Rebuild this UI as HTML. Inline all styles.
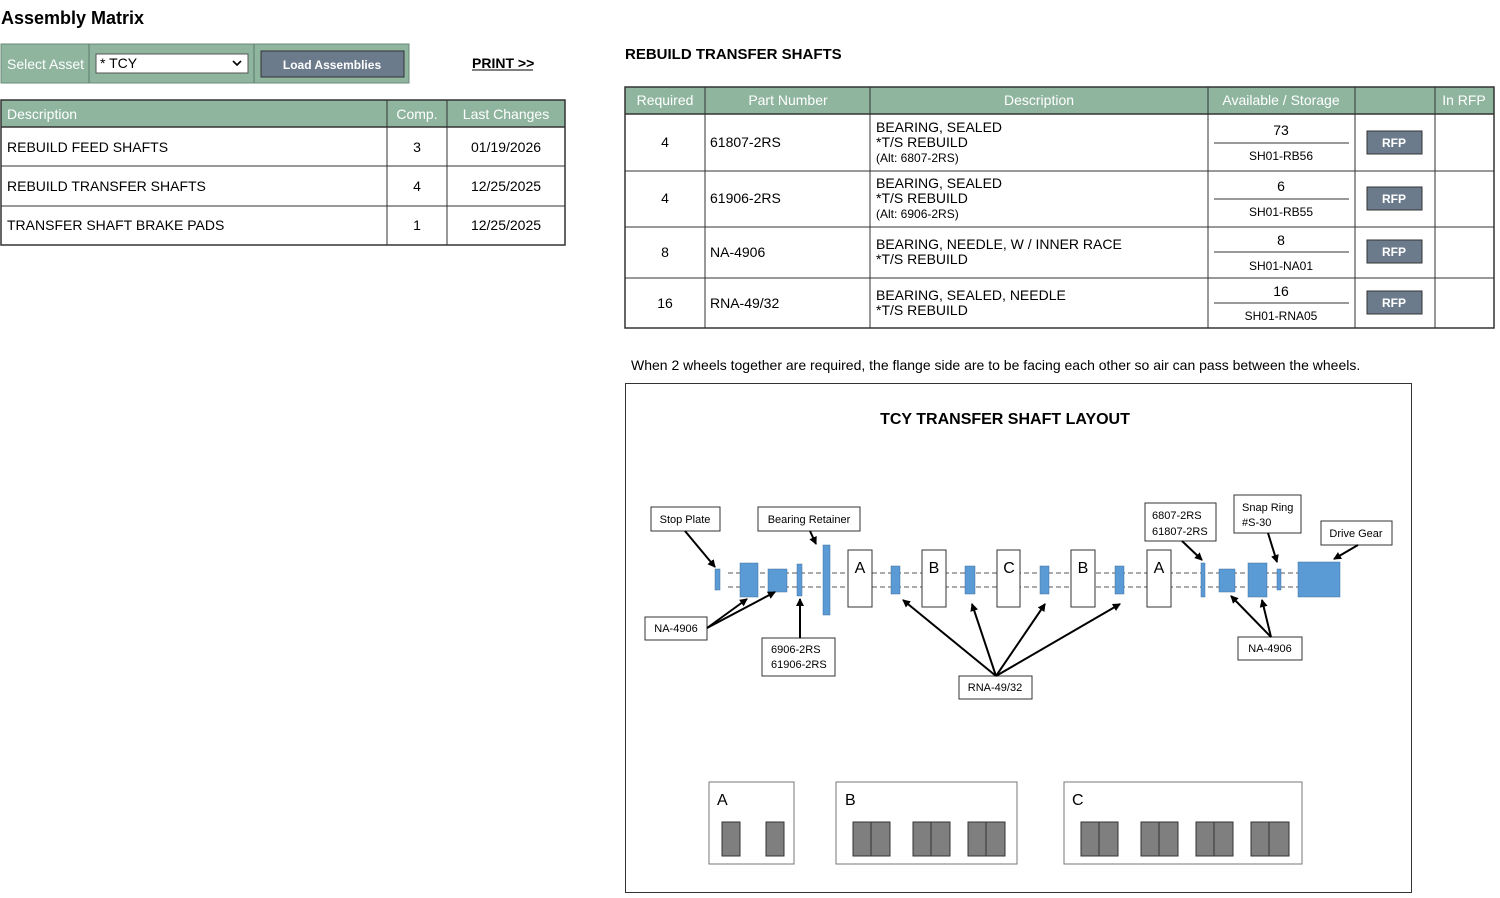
<!DOCTYPE html>
<html><head><meta charset="utf-8"><style>
html,body{margin:0;padding:0;background:#fff;}
svg{display:block;font-family:"Liberation Sans",Arial,sans-serif;}
.d{font-family:"Liberation Sans",sans-serif;font-size:11px;}
</style></head><body>
<svg width="1500" height="898" viewBox="0 0 1500 898" xmlns="http://www.w3.org/2000/svg">
<defs><marker id="ar" markerWidth="8" markerHeight="8" refX="7" refY="4" orient="auto" markerUnits="userSpaceOnUse"><path d="M0,0 L8,4 L0,8 z" fill="#000"/></marker></defs>
<!-- title -->
<text x="1" y="24" font-size="18" font-weight="bold">Assembly Matrix</text>
<!-- toolbar -->
<rect x="1" y="44" width="408" height="39" fill="#8fb59f" stroke="#6a8a77"/>
<line x1="89" y1="44" x2="89" y2="83" stroke="#5a7a67"/>
<line x1="254" y1="44" x2="254" y2="83" stroke="#5a7a67"/>
<text x="7" y="69" font-size="14" fill="#fff">Select Asset</text>
<rect x="96" y="54" width="152" height="19" fill="#fff" stroke="#555"/>
<text x="100" y="68" font-size="14">* TCY</text>
<path d="M233,61 l4,4 l4,-4" fill="none" stroke="#000" stroke-width="1.6"/>
<rect x="261" y="51" width="143" height="26" fill="#6b7b8c" stroke="#333"/>
<text x="332" y="69" font-size="12" font-weight="bold" fill="#fff" text-anchor="middle">Load Assemblies</text>
<text x="472" y="68" font-size="14" font-weight="bold">PRINT &gt;&gt;</text>
<line x1="472" y1="70" x2="533" y2="70" stroke="#000"/>
<!-- left table -->
<rect x="1" y="100" width="564" height="27" fill="#8fb59f"/>
<rect x="1" y="100" width="564" height="145" fill="none" stroke="#333" stroke-width="1.5"/>
<line x1="1" y1="127" x2="565" y2="127" stroke="#333" stroke-width="1.5"/>
<line x1="1" y1="166" x2="565" y2="166" stroke="#333"/>
<line x1="1" y1="206" x2="565" y2="206" stroke="#333"/>
<line x1="387" y1="100" x2="387" y2="245" stroke="#333"/>
<line x1="447" y1="100" x2="447" y2="245" stroke="#333"/>
<g font-size="14" fill="#fff"><text x="7" y="119">Description</text><text x="417" y="119" text-anchor="middle">Comp.</text><text x="506" y="119" text-anchor="middle">Last Changes</text></g>
<g font-size="14">
<text x="7" y="152">REBUILD FEED SHAFTS</text><text x="417" y="152" text-anchor="middle">3</text><text x="506" y="152" text-anchor="middle">01/19/2026</text>
<text x="7" y="191">REBUILD TRANSFER SHAFTS</text><text x="417" y="191" text-anchor="middle">4</text><text x="506" y="191" text-anchor="middle">12/25/2025</text>
<text x="7" y="230">TRANSFER SHAFT BRAKE PADS</text><text x="417" y="230" text-anchor="middle">1</text><text x="506" y="230" text-anchor="middle">12/25/2025</text>
</g>
<!-- right heading -->
<text x="625" y="59" font-size="15" font-weight="bold">REBUILD TRANSFER SHAFTS</text>
<!-- right table -->
<rect x="625" y="87" width="869" height="27" fill="#8fb59f"/>
<rect x="625" y="87" width="869" height="241" fill="none" stroke="#333" stroke-width="1.5"/>
<line x1="625" y1="114" x2="1494" y2="114" stroke="#333" stroke-width="1.5"/>
<g stroke="#333"><line x1="625" y1="171" x2="1494" y2="171"/><line x1="625" y1="227" x2="1494" y2="227"/><line x1="625" y1="278" x2="1494" y2="278"/>
<line x1="705" y1="87" x2="705" y2="328"/><line x1="870" y1="87" x2="870" y2="328"/><line x1="1208" y1="87" x2="1208" y2="328"/><line x1="1355" y1="87" x2="1355" y2="328"/><line x1="1435" y1="87" x2="1435" y2="328"/></g>
<g font-size="14" fill="#fff"><text x="665" y="105" text-anchor="middle">Required</text><text x="788" y="105" text-anchor="middle">Part Number</text><text x="1039" y="105" text-anchor="middle">Description</text><text x="1281" y="105" text-anchor="middle">Available / Storage</text><text x="1464" y="105" text-anchor="middle">In RFP</text></g>
<g font-size="14">
<text x="665" y="147" text-anchor="middle">4</text><text x="710" y="147">61807-2RS</text>
<text x="876" y="132">BEARING, SEALED</text><text x="876" y="147">*T/S REBUILD</text><text x="876" y="162" font-size="12">(Alt: 6807-2RS)</text>
<text x="665" y="203" text-anchor="middle">4</text><text x="710" y="203">61906-2RS</text>
<text x="876" y="188">BEARING, SEALED</text><text x="876" y="203">*T/S REBUILD</text><text x="876" y="218" font-size="12">(Alt: 6906-2RS)</text>
<text x="665" y="257" text-anchor="middle">8</text><text x="710" y="257">NA-4906</text>
<text x="876" y="249">BEARING, NEEDLE, W / INNER RACE</text><text x="876" y="264">*T/S REBUILD</text>
<text x="665" y="308" text-anchor="middle">16</text><text x="710" y="308">RNA-49/32</text>
<text x="876" y="300">BEARING, SEALED, NEEDLE</text><text x="876" y="315">*T/S REBUILD</text>
<text x="1281" y="135" text-anchor="middle">73</text><text x="1281" y="191" text-anchor="middle">6</text><text x="1281" y="245" text-anchor="middle">8</text><text x="1281" y="296" text-anchor="middle">16</text>
</g>
<g font-size="12" text-anchor="middle">
<text x="1281" y="160">SH01-RB56</text><text x="1281" y="216">SH01-RB55</text><text x="1281" y="270">SH01-NA01</text><text x="1281" y="320">SH01-RNA05</text>
</g>
<g stroke="#333"><line x1="1214" y1="143" x2="1349" y2="143"/><line x1="1214" y1="199" x2="1349" y2="199"/><line x1="1214" y1="252" x2="1349" y2="252"/><line x1="1214" y1="303" x2="1349" y2="303"/></g>
<g fill="#6b7b8c" stroke="#333"><rect x="1367" y="131" width="55" height="23"/><rect x="1367" y="187" width="55" height="23"/><rect x="1367" y="240" width="55" height="23"/><rect x="1367" y="291" width="55" height="23"/></g>
<g font-size="12" font-weight="bold" fill="#fff" text-anchor="middle"><text x="1394" y="147">RFP</text><text x="1394" y="203">RFP</text><text x="1394" y="256">RFP</text><text x="1394" y="307">RFP</text></g>
<text x="631" y="370" font-size="14">When 2 wheels together are required, the flange side are to be facing each other so air can pass between the wheels.</text>
<!-- diagram -->
<rect x="625.5" y="383.5" width="786" height="509" fill="#fff" stroke="#333"/>
<text x="1005" y="424" font-size="16" font-weight="bold" text-anchor="middle">TCY TRANSFER SHAFT LAYOUT</text>
<g stroke="#555" stroke-dasharray="5,3"><line x1="728" y1="573" x2="1298" y2="573"/><line x1="728" y1="587" x2="1298" y2="587"/></g>
<g fill="#5b9bd5" stroke="#41719c" stroke-width="0.5">
<rect x="715" y="569" width="5" height="21"/><rect x="740" y="563" width="18" height="34"/><rect x="768" y="569" width="19" height="23"/><rect x="797" y="564" width="5" height="32"/><rect x="823" y="545" width="7" height="70"/>
<rect x="891" y="566" width="9" height="28"/><rect x="965" y="566" width="10" height="28"/><rect x="1040" y="566" width="9" height="28"/><rect x="1115" y="566" width="9" height="28"/>
<rect x="1201" y="563" width="4" height="34"/><rect x="1219" y="569" width="16" height="23"/><rect x="1248" y="563" width="19" height="34"/><rect x="1277" y="569" width="4" height="21"/><rect x="1298" y="562" width="42" height="35"/>
</g>
<g fill="#fff" stroke="#333"><rect x="848" y="550" width="24" height="57"/><rect x="922" y="550" width="24" height="57"/><rect x="997" y="550" width="23" height="57"/><rect x="1071" y="550" width="24" height="57"/><rect x="1147" y="550" width="24" height="57"/></g>
<g font-size="16" text-anchor="middle"><text x="860" y="573">A</text><text x="934" y="573">B</text><text x="1009" y="573">C</text><text x="1083" y="573">B</text><text x="1159" y="573">A</text></g>
<g fill="#fff" stroke="#333"><rect x="651" y="507" width="69" height="24"/><rect x="758" y="507" width="102" height="24"/><rect x="645" y="617" width="62" height="23"/><rect x="762" y="638" width="73" height="38"/><rect x="959" y="676" width="73" height="23"/><rect x="1145" y="503" width="71" height="38"/><rect x="1234" y="495" width="67" height="38"/><rect x="1321" y="521" width="71" height="24"/><rect x="1238" y="637" width="64" height="23"/></g>
<g class="d">
<text x="685" y="523" text-anchor="middle">Stop Plate</text><text x="809" y="523" text-anchor="middle">Bearing Retainer</text><text x="676" y="632" text-anchor="middle">NA-4906</text>
<text x="771" y="653">6906-2RS</text><text x="771" y="668">61906-2RS</text><text x="995" y="691" text-anchor="middle">RNA-49/32</text>
<text x="1152" y="519">6807-2RS</text><text x="1152" y="535">61807-2RS</text><text x="1242" y="511">Snap Ring</text><text x="1242" y="526">#S-30</text>
<text x="1356" y="537" text-anchor="middle">Drive Gear</text><text x="1270" y="652" text-anchor="middle">NA-4906</text>
</g>
<g stroke="#000" stroke-width="2" marker-end="url(#ar)">
<line x1="685" y1="531" x2="715" y2="567"/><line x1="810" y1="531" x2="816" y2="544"/>
<line x1="707" y1="628" x2="747" y2="599"/><line x1="707" y1="628" x2="775" y2="592"/>
<line x1="800" y1="638" x2="800" y2="599"/>
<line x1="996" y1="676" x2="903" y2="600"/><line x1="996" y1="676" x2="972" y2="604"/><line x1="996" y1="676" x2="1045" y2="604"/><line x1="996" y1="676" x2="1120" y2="604"/>
<line x1="1182" y1="541" x2="1202" y2="560"/><line x1="1268" y1="533" x2="1277" y2="562"/><line x1="1358" y1="545" x2="1334" y2="559"/>
<line x1="1271" y1="637" x2="1231" y2="596"/><line x1="1271" y1="637" x2="1262" y2="600"/>
</g>
<!-- bottom legend -->
<g fill="#fff" stroke="#777"><rect x="709" y="782" width="85" height="82"/><rect x="836" y="782" width="181" height="82"/><rect x="1064" y="782" width="238" height="82"/></g>
<g font-size="16"><text x="717" y="805">A</text><text x="845" y="805">B</text><text x="1072" y="805">C</text></g>
<g fill="#7f7f7f" stroke="#333">
<rect x="722" y="822" width="18" height="34"/><rect x="766" y="822" width="18" height="34"/>
<rect x="853" y="822" width="18" height="34"/><rect x="871" y="822" width="19" height="34"/>
<rect x="913" y="822" width="18" height="34"/><rect x="931" y="822" width="19" height="34"/>
<rect x="968" y="822" width="18" height="34"/><rect x="986" y="822" width="19" height="34"/>
<rect x="1081" y="822" width="18" height="34"/><rect x="1099" y="822" width="19" height="34"/>
<rect x="1141" y="822" width="18" height="34"/><rect x="1159" y="822" width="19" height="34"/>
<rect x="1196" y="822" width="18" height="34"/><rect x="1214" y="822" width="19" height="34"/>
<rect x="1251" y="822" width="18" height="34"/><rect x="1269" y="822" width="20" height="34"/>
</g>
</svg>
</body></html>
